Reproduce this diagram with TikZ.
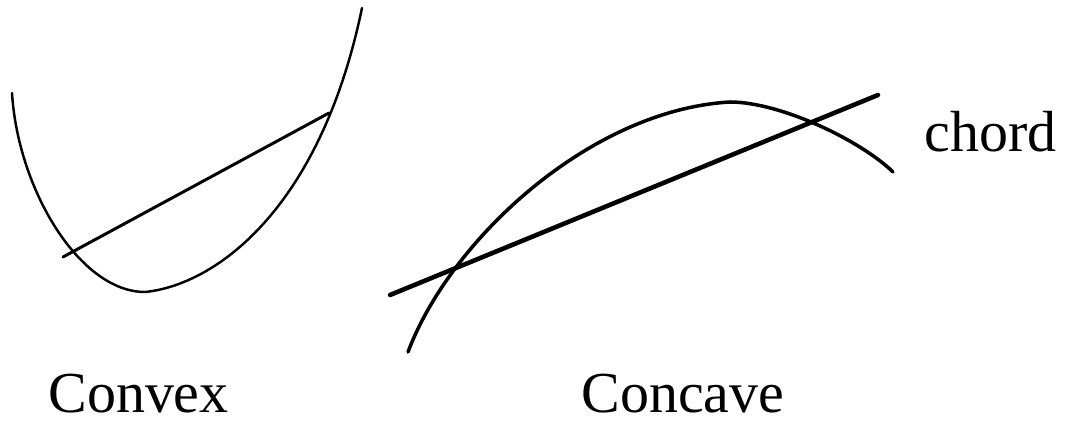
\documentclass[tikz,border=0pt]{standalone}
\usepackage{fontspec}
\setmainfont{Liberation Serif}
\begin{document}
\begin{tikzpicture}[x=0.02cm,y=-0.02cm,
  thinline/.style={line width=1.4pt,line cap=round,line join=round},
  thickline/.style={line width=2.0pt,line cap=round,line join=round},
  heavyline/.style={line width=2.6pt,line cap=round,line join=round},
  label/.style={font=\fontsize{33}{36}\selectfont,inner sep=0pt,anchor=base west}]
\useasboundingbox (0,0) rectangle (1065,425);
% Convex
\draw[thinline] (12,93) .. controls (18,190) and (80,292) .. (145,292)
                        .. controls (215,285) and (320,210) .. (362,8);
\draw[line width=1.7pt,line cap=round] (63,257) -- (329,113);
% Concave
\draw[thickline] (408,352) .. controls (450,240) and (590,110) .. (730,102)
                           .. controls (780,102) and (860,140) .. (893,172);
\draw[heavyline] (390,295) -- (878,95);
% Labels
\node[label] (convex) at (48,413) {Convex};
\node[label] (concave) at (581,413) {Concave};
\node[label] (chord) at (924,152) {chord};
\end{tikzpicture}
\end{document}
